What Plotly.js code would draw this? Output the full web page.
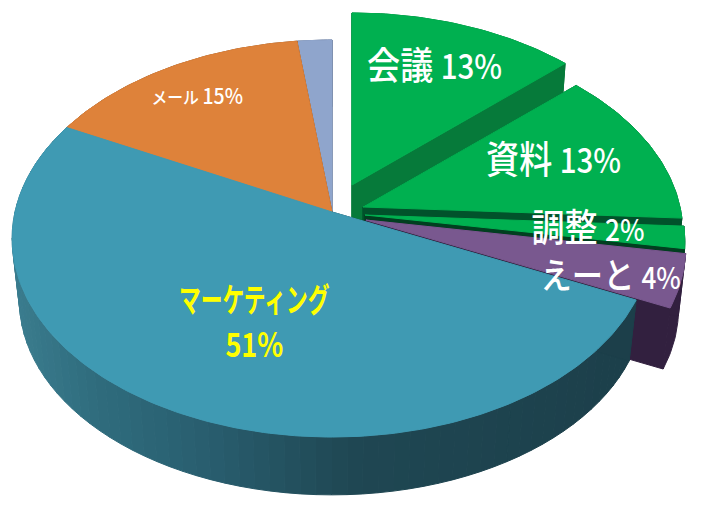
<!DOCTYPE html>
<html><head><meta charset="utf-8">
<script src="https://cdn.plot.ly/plotly-3.0.1.min.js"></script>
<style>
html,body{margin:0;padding:0;background:#fff}
#c{width:718px;height:512px}
.annotation[data-index] text{transform-box:fill-box;transform-origin:center}
.annotation[data-index="0"] text,.annotation[data-index="1"] text,.annotation[data-index="2"] text,.annotation[data-index="3"] text{transform:scaleX(.87)}
.annotation[data-index="4"] text{transform:scaleX(.66)}
.annotation[data-index="5"] text{transform:scaleX(.93)}
.annotation[data-index="6"] text{transform:scaleX(.82)}
</style></head><body><div id="c"></div>
<script>
// data, clockwise from 12 o'clock
const categories=['会議','資料','調整','えーと','マーケティング','メール','その他'];
const values=[13.1,12.8,1.8,4.3,50.6,15.4,2.0];
const topColors=['#00b050','#00b050','#00b050','#79588f','#3f9ab3','#de823a','#8fa5cc'];
const wallColors=['#067a3a','#01522b','#013f20','#32203f','#1c3f4a','#8a4f22','#5a6a85'];
const offsetX=[20,31,33,34,0,0,0];
const offsetY=[-27,-5,3,8,0,0,0];
const drawOrder=[0,1,2,3,6,5,4];

// projection of the tilted disc
const CX=332,CY=212,BX=317,AY=195,K=0.1335,DEPTH=63,SHRINK=0.977;
function topPt(i,a){const r=a*Math.PI/180,u=Math.cos(r),v=Math.sin(r),w=1+K*v;
  return [CX+offsetX[i]+BX*u/w,CY+offsetY[i]-AY*v/w];}
function botPt(i,a){const r=a*Math.PI/180,u=Math.cos(r),v=Math.sin(r),w=1+K*v;
  return [CX+offsetX[i]+SHRINK*BX*u/w,CY+offsetY[i]+DEPTH-SHRINK*AY*v/w];}
function poly(pts,color){return {type:'scatter',mode:'lines',x:pts.map(p=>p[0]),y:pts.map(p=>p[1]),
  fill:'toself',fillcolor:color,line:{color:color,width:1},hoverinfo:'skip',showlegend:false};}
function mix(c1,c2,t){const h=s=>[1,3,5].map(i=>parseInt(s.substr(i,2),16));const a=h(c1),b=h(c2);
  return 'rgb('+a.map((x,i)=>Math.round(x+(b[i]-x)*t)).join(',')+')';}
const stops=[[15,'#3b7d8f'],[100,'#2f6c7d'],[200,'#295f70'],[350,'#1f4753'],[640,'#1c3f4a']];
function sideColor(x){for(let i=1;i<stops.length;i++){if(x<=stops[i][0]){const t=Math.max(0,(x-stops[i-1][0])/(stops[i][0]-stops[i-1][0]));
  return mix(stops[i-1][1],stops[i][1],t);}}return stops[stops.length-1][1];}

const total=values.reduce((a,b)=>a+b,0);
let ang=90;const spans=values.map(v=>{const s=[ang,ang-v/total*360];ang=s[1];return s;});
const traces=[];
drawOrder.forEach(i=>{
  const c=categories[i];
  const [a0,a1]=spans[i];const apexT=[CX+offsetX[i],CY+offsetY[i]],apexB=[apexT[0],apexT[1]+DEPTH];
  const n=Math.max(4,Math.ceil((a0-a1)/1));const arc=[];for(let j=0;j<=n;j++)arc.push(a0+(a1-a0)*j/n);
  if(c==='マーケティング'){
    const step=2.5;const cnt=Math.ceil((a0-a1)/step);
    for(let j=0;j<cnt;j++){const p=a0+(a1-a0)*j/cnt,q=a0+(a1-a0)*(j+1)/cnt;
      const mid=botPt(i,(p+q)/2);traces.push(poly([topPt(i,p),topPt(i,q),botPt(i,q),botPt(i,p),topPt(i,p)],sideColor(mid[0])));}
    traces.push(poly([apexT,topPt(i,a0),botPt(i,a0),apexB,apexT],wallColors[i]));
  }else{
    traces.push(poly([topPt(i,a0),...arc.map(a=>topPt(i,a)),...arc.slice().reverse().map(a=>botPt(i,a)),topPt(i,a0)],wallColors[i]));
    traces.push(poly([apexT,topPt(i,a0),botPt(i,a0),apexB,apexT],wallColors[i]));
    traces.push(poly([apexT,topPt(i,a1),botPt(i,a1),apexB,apexT],wallColors[i]));
  }
  traces.push(poly([apexT,...arc.map(a=>topPt(i,a)),apexT],topColors[i]));
});

const pct=i=>Math.round(values[i]/total*100)+'%';
const F='"Noto Sans CJK JP","Noto Sans",sans-serif';
function note(text,x,y,size,color,weight){return {text:text,x:x,y:y,xref:'x',yref:'y',showarrow:false,
  xanchor:'center',yanchor:'middle',font:{family:F,size:size,color:color,weight:weight}};}
function lab(i,dSize){return categories[i]+' <span style="font-size:'+dSize+'px">'+pct(i)+'</span>';}
const annotations=[
  note(lab(0,34),434,62,38,'#ffffff',500),
  note(lab(1,34),553,156,38,'#ffffff',500),
  note(lab(2,30),588,224,38,'#ffffff',500),
  note(lab(3,30),610,273,36,'#ffffff',500),
  note(categories[4],254,298,33,'#ffff00',700),
  note(lab(5,21),197,95,17,'#ffffff',500),
  note(pct(4),254,343,33,'#ffff00',700)
];
const layout={width:718,height:512,margin:{l:0,r:0,t:0,b:0},paper_bgcolor:'#ffffff',plot_bgcolor:'#ffffff',
  showlegend:false,hovermode:false,
  xaxis:{range:[0,718],visible:false,fixedrange:true},
  yaxis:{range:[512,0],visible:false,fixedrange:true},
  annotations:annotations};
Plotly.newPlot('c',traces,layout,{displayModeBar:false,staticPlot:true});
</script></body></html>
